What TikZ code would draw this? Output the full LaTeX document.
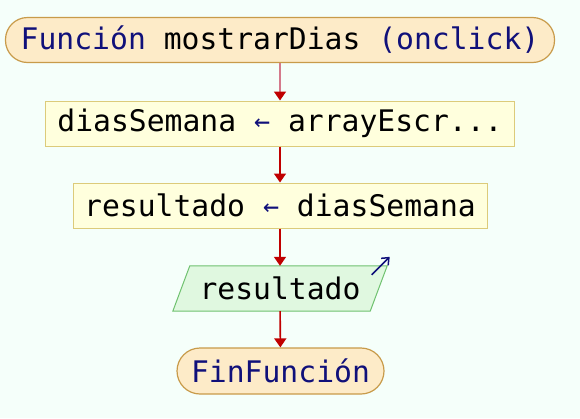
\documentclass[tikz,border=0pt]{standalone}
\usepackage{fontspec}
\setmonofont{DejaVu Sans Mono}
\usepackage{tikz}
\usetikzlibrary{arrows.meta,calc,backgrounds}
\definecolor{fondo}{HTML}{F5FFFA}
\definecolor{termfill}{HTML}{FDEBC8}
\definecolor{termdraw}{HTML}{C89B4A}
\definecolor{asigfill}{HTML}{FFFFDD}
\definecolor{asigdraw}{HTML}{DCCB7A}
\definecolor{iofill}{HTML}{E0F8E0}
\definecolor{iodraw}{HTML}{6FC26F}
\definecolor{flecha}{HTML}{C00000}
\definecolor{rosa}{HTML}{D47A8C}
\definecolor{clave}{HTML}{10107A}
\newcommand{\kw}[1]{\textcolor{clave}{#1}}
\newcommand{\asig}{\kw{\raisebox{0.03em}{\scalebox{0.9}{←}}}}
\tikzset{
    terminal/.style={draw=termdraw, fill=termfill, line width=1.2pt, rounded corners=22pt, minimum height=45pt, inner sep=0pt},
    asignacion/.style={draw=asigdraw, fill=asigfill, line width=1pt, minimum height=45pt, inner sep=0pt},
    salida/.style={minimum height=45pt, inner sep=0pt},
    edge/.style={-{Triangle[width=12pt,length=9pt,color=flecha]}, line width=1.6pt, draw=flecha}
    }

\begin{document}
\begin{tikzpicture}[x=1pt, y=-1pt, font=\ttfamily\fontsize{29.7pt}{34pt}\selectfont]

        \useasboundingbox (0,0) rectangle (580,418);

        % nodes
        \node[terminal, minimum width=549pt] (inicio) at (280,40) {\kw{Función} mostrarDias \kw{(onclick)}};
        \node[asignacion, minimum width=469pt] (dias) at (280,123.5) {diasSemana \asig{} arrayEscr...};
        \node[asignacion, minimum width=414pt] (res) at (280,205.5) {resultado \asig{} diasSemana};
        \node[salida, minimum width=197pt] (sal) at (280,288.5) {resultado};
        \node[terminal, minimum width=207pt, rounded corners=23pt, minimum height=46pt] (fin) at (280.5,371) {\kw{FinFunción}};

        % background and parallelogram
        \begin{scope}[on background layer]
            \fill[fondo] (0,0) rectangle (580,418);
            \draw[fill=iofill, draw=iodraw, line width=1pt] ([xshift=-8.5pt]sal.south west) -- ([xshift=8.5pt]sal.north west) -- ([xshift=8.5pt]sal.north east) -- ([xshift=-8.5pt]sal.south east) -- cycle;
        \end{scope}

        % output mark
        \coordinate (marca) at ($(sal.north east)+(-7,9)$);
        \draw[-{Straight Barb[length=6pt,width=10pt]}, draw=clave, line width=1.5pt] (marca) -- ++(18,-18);

        %edges
        \draw[edge, draw=rosa] (inicio) -- (dias);
        \draw[edge] (dias) -- (res);
        \draw[edge] (res) -- (sal);
        \draw[edge] (sal) -- (fin);
    \end{tikzpicture}
\end{document}
